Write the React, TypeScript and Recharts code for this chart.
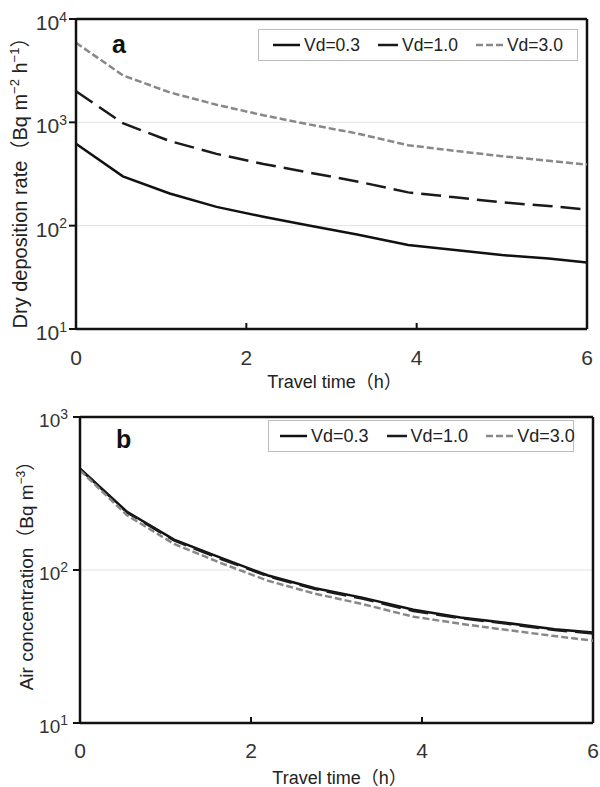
import { LineChart, Line, XAxis, YAxis, CartesianGrid, ReferenceLine, Legend } from "recharts";

const FONT = '"Liberation Sans", Arial, "Noto Sans CJK JP", sans-serif';

// travel time (h)
const times = [0, 0.55, 1.1, 1.65, 2.2, 2.75, 3.3, 3.9, 4.45, 5.0, 5.55, 6.0];

// panel a: dry deposition rate (Bq m-2 h-1)
const depVd03 = [620, 300, 205, 152, 122, 100, 82, 65, 58, 52, 48, 44];
const depVd10 = [2000, 980, 660, 495, 395, 325, 268, 210, 188, 168, 155, 143];
const depVd30 = [5900, 2850, 1950, 1480, 1170, 950, 780, 600, 530, 470, 425, 390];

// panel b: air concentration (Bq m-3)
const airVd03 = [460, 240, 158, 120, 92, 76, 66, 55, 49, 45, 41, 39];
const airVd10 = [458, 238, 156, 118, 91, 75, 65, 54, 48.5, 44.5, 40.5, 38.5];
const airVd30 = [448, 228, 148, 111, 85, 70, 60, 49.5, 44.5, 40.5, 37, 34.5];

const seriesNames = ["Vd=0.3", "Vd=1.0", "Vd=3.0"];
const xTicks = [0, 2, 4, 6];
const depTicks = [10, 100, 1000, 10000];
const airTicks = [10, 100, 1000];

const seriesStyle = [
  { key: "vd03", stroke: "#111", dash: undefined as string | undefined, swatch: 27 },
  { key: "vd10", stroke: "#1a1a1a", dash: "20 8", swatch: 20 },
  { key: "vd30", stroke: "#888", dash: "7 3", swatch: 27 },
];

const toRows = (a: number[], b: number[], c: number[]) =>
  times.map((t, i) => ({ t, vd03: a[i], vd10: b[i], vd30: c[i] }));

const depData = toRows(depVd03, depVd10, depVd30);
const airData = toRows(airVd03, airVd10, airVd30);

const makeXTick = (fontSize: number, dy: number) => (props: any) => {
  const { x, y, payload } = props;
  const v = payload.value;
  return (
    <g>
      {v > 0 && v < 6 && (
        <line x1={x} x2={x} y1={y} y2={y - 6} stroke="#111" strokeWidth={2} />
      )}
      <text x={x} y={y + dy} textAnchor="middle" fontSize={fontSize} fill="#333" fontFamily={FONT}>
        {v}
      </text>
    </g>
  );
};

const makeYTick = (fontSize: number, supSize: number) => (props: any) => {
  const { x, y, payload } = props;
  const exp = Math.round(Math.log10(payload.value));
  return (
    <text x={x} y={y + fontSize * 0.52} textAnchor="end" fontSize={fontSize} fill="#333" fontFamily={FONT}>
      10
      <tspan fontSize={supSize} dy={-fontSize * 0.4}>
        {exp}
      </tspan>
    </text>
  );
};

function LegendBox({ payload, fontSize, padLeft, gaps }: any) {
  return (
    <div
      style={{
        border: "1px solid #bdbdbd",
        background: "#fff",
        height: "100%",
        boxSizing: "border-box",
        display: "flex",
        alignItems: "center",
        paddingLeft: padLeft,
        fontFamily: FONT,
        fontSize,
        color: "#222",
        whiteSpace: "nowrap",
      }}
    >
      {(payload || []).map((p: any, i: number) => {
        const st = seriesStyle[i];
        return (
          <span key={i} style={{ display: "flex", alignItems: "center", marginRight: gaps[i] }}>
            <svg width={st.swatch} height={10} style={{ marginRight: 4 }}>
              <line x1={0} x2={st.swatch} y1={5} y2={5} stroke={st.stroke} strokeWidth={2.5} strokeDasharray={st.dash} />
            </svg>
            {p.value}
          </span>
        );
      })}
    </div>
  );
}

type PanelProps = {
  letter: string;
  data: any[];
  height: number;
  margin: { top: number; right: number; bottom: number; left: number };
  yWidth: number;
  xHeight: number;
  yTicks: number[];
  yTickFont: number;
  yTickMargin: number;
  titleParts: any;
  titleFont: number;
  titleX: number;
  titleCy: number;
  xTitleY: number;
  xTickDy: number;
  legend: { left: number; top: number; width: number; height: number; font: number; pad: number };
};

function Panel(p: PanelProps) {
  const yMin = p.yTicks[0];
  const yMax = p.yTicks[p.yTicks.length - 1];
  const plotLeft = p.margin.left + p.yWidth;
  const plotRight = 600 - p.margin.right;
  return (
    <LineChart width={600} height={p.height} data={p.data} margin={p.margin}>
      <CartesianGrid vertical={false} stroke="#e2e2e2" strokeWidth={1} />
      <XAxis
        type="number"
        dataKey="t"
        domain={[0, 6]}
        ticks={xTicks}
        height={p.xHeight}
        tickSize={0}
        tickMargin={0}
        tickLine={false}
        axisLine={{ stroke: "#111", strokeWidth: 2.5 }}
        tick={makeXTick(21, p.xTickDy)}
        label={() => (
          <text
            x={(plotLeft + plotRight) / 2 + 3}
            y={p.xTitleY}
            textAnchor="middle"
            fontSize={18}
            fill="#222"
            fontFamily={FONT}
          >
            Travel time（h）
          </text>
        )}
      />
      <YAxis
        scale="log"
        type="number"
        domain={[yMin, yMax]}
        ticks={p.yTicks}
        allowDataOverflow
        width={p.yWidth}
        tickSize={7}
        tickMargin={p.yTickMargin}
        tickLine={{ stroke: "#111", strokeWidth: 2 }}
        axisLine={{ stroke: "#111", strokeWidth: 2.5 }}
        tick={makeYTick(p.yTickFont, 14)}
        label={() => (
          <g>
            <text
              x={p.titleX}
              y={p.titleCy}
              transform={`rotate(-90 ${p.titleX} ${p.titleCy})`}
              textAnchor="middle"
              fontSize={p.titleFont}
              fill="#222"
              fontFamily={FONT}
            >
              {p.titleParts}
            </text>
            <text
              x={plotLeft + 36}
              y={p.margin.top + (p.letter === "a" ? 34 : 31)}
              fontSize={25}
              fontWeight="bold"
              fill="#111"
              fontFamily={FONT}
            >
              {p.letter}
            </text>
          </g>
        )}
      />
      <ReferenceLine y={yMax} stroke="#111" strokeWidth={2.5} />
      <ReferenceLine x={6} stroke="#111" strokeWidth={2.5} />
      <Legend
        layout="horizontal"
        align="center"
        verticalAlign="middle"
        wrapperStyle={{
          left: p.legend.left,
          top: p.legend.top,
          width: p.legend.width,
          height: p.legend.height,
        }}
        content={(lp: any) => (
          <LegendBox payload={lp.payload} fontSize={p.legend.font} padLeft={p.legend.pad} gaps={[18, 18, 0]} />
        )}
      />
      {seriesStyle.map((s, i) => (
        <Line
          key={s.key}
          type="linear"
          dataKey={s.key}
          name={seriesNames[i]}
          stroke={s.stroke}
          strokeWidth={2.5}
          strokeDasharray={s.dash}
          dot={false}
          isAnimationActive={false}
        />
      ))}
    </LineChart>
  );
}

export default function App() {
  return (
    <div style={{ position: "absolute", left: 0, top: 0, width: 600, height: 787, background: "#fff" }}>
      <div style={{ position: "absolute", left: 0, top: 0 }}>
        <Panel
          letter="a"
          data={depData}
          height={400}
          margin={{ top: 19, right: 13, bottom: 0, left: 0 }}
          yWidth={76}
          xHeight={71}
          yTicks={depTicks}
          yTickFont={21}
          yTickMargin={2}
          titleParts={
            <>
              Dry deposition rate（Bq m<tspan fontSize={13} dy={-8}>−2</tspan>
              <tspan dy={8}> h</tspan>
              <tspan fontSize={13} dy={-8}>−1</tspan>
              <tspan dy={8}>）</tspan>
            </>
          }
          titleFont={20}
          titleX={27}
          titleCy={178}
          xTitleY={388}
          xTickDy={36}
          legend={{ left: 258, top: 29, width: 320, height: 32, font: 17.5, pad: 14 }}
        />
      </div>
      <div style={{ position: "absolute", left: 0, top: 400 }}>
        <Panel
          letter="b"
          data={airData}
          height={387}
          margin={{ top: 17, right: 7, bottom: 0, left: 0 }}
          yWidth={80}
          xHeight={64}
          yTicks={airTicks}
          yTickFont={19}
          yTickMargin={5}
          titleParts={
            <>
              Air concentration（Bq m<tspan fontSize={12} dy={-8}>−3</tspan>
              <tspan dy={8}>）</tspan>
            </>
          }
          titleFont={19}
          titleX={33}
          titleCy={171}
          xTitleY={384}
          xTickDy={35}
          legend={{ left: 268, top: 20, width: 306, height: 32, font: 18, pad: 11 }}
        />
      </div>
    </div>
  );
}
